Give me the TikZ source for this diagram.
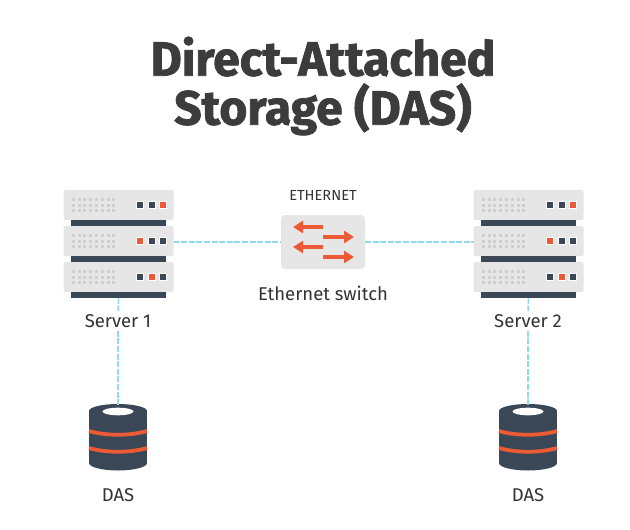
\documentclass[tikz,border=0pt]{standalone}
\usepackage{fontspec}
\setmainfont[BoldFeatures={FakeBold=1.6}]{Fira Sans}
\usetikzlibrary{arrows.meta,calc}
\definecolor{slatec}{HTML}{3A4757}
\definecolor{redc}{HTML}{EC5B36}
\definecolor{panelc}{HTML}{E6E6E6}
\definecolor{dotc}{HTML}{CFCFCF}
\definecolor{linkc}{HTML}{8FDCEA}
\definecolor{textc}{HTML}{333333}
\definecolor{titlec}{HTML}{3C3C3C}
\tikzset{
  panel/.style={fill=panelc,draw=none,rounded corners=2pt,minimum width=110pt,minimum height=30pt,inner sep=0pt,outer sep=0pt},
  rackbar/.style={fill=slatec,draw=none,minimum width=95pt,minimum height=6pt,inner sep=0pt,outer sep=0pt},
  led/.style={draw=white,line width=.6pt,minimum size=6.6pt,inner sep=0pt},
  griddot/.style={fill=dotc,draw=none,minimum size=3pt,inner sep=0pt},
  link/.style={draw=linkc,line width=1.5pt,dash pattern=on 6pt off 1.6pt},
  flow/.style={draw=redc,line width=4pt,-{Triangle[length=10pt,width=12pt]}},
  lab/.style={text=textc,font=\fontsize{18.5}{20}\selectfont,inner sep=3pt},
  titletext/.style={text=titlec,font=\fontsize{48}{50}\bfseries\selectfont,align=center,inner sep=0pt},
}
\newcommand{\rackunit}[6]{%
  \node[panel] (#3) at (#1,#2) {};
  \node[rackbar] (#3b) at (#1-.5,#2+18) {};
  \foreach \i in {0,...,7}\foreach \j in {-1,0,1}
    \node[griddot] at ({#1-45.3+\i*5.8},{#2+\j*5.7}) {};
  \node[led,fill=#4] at (#1+21,#2) {};
  \node[led,fill=#5] at (#1+33,#2) {};
  \node[led,fill=#6] at (#1+44.5,#2) {};
}
\newcommand{\drum}[2]{%
  \fill[slatec] (#1-29,411) rectangle (#1+29,463);
  \fill[slatec] (#1,463) ellipse[x radius=29,y radius=7.5];
  \fill[slatec] (#1,411) ellipse[x radius=29,y radius=7];
  \fill[white] (#1,411.5) ellipse[x radius=15.5,y radius=3.8];
  \draw[redc,line width=3.8pt] (#1-29,431) .. controls (#1-12,436) and (#1+12,436) .. (#1+29,431);
  \draw[redc,line width=3.8pt] (#1-29,448) .. controls (#1-12,453) and (#1+12,453) .. (#1+29,448);
  \coordinate (#2) at (#1,405);
}
\begin{document}
\begin{tikzpicture}[x=1pt,y=-1pt]
\useasboundingbox (0,0) rectangle (630,530);
\fill[white] (0,0) rectangle (630,530);

\node[titletext] (title) at (323,86) {Direct-Attached\\[-1pt]Storage (DAS)};

% servers
\rackunit{118.5}{205}{aa}{slatec}{slatec}{redc}
\rackunit{118.5}{241}{ab}{redc}{slatec}{slatec}
\rackunit{118.5}{277}{ac}{slatec}{redc}{slatec}
\rackunit{528.5}{205}{ba}{slatec}{slatec}{redc}
\rackunit{528.5}{241}{bb}{redc}{slatec}{slatec}
\rackunit{528.5}{277}{bc}{slatec}{redc}{slatec}

\node[lab] (s1) at (118,321) {Server 1};
\node[lab] (s2) at (528,321) {Server 2};

% switch
\node[fill=panelc,rounded corners=4pt,minimum width=84pt,minimum height=54pt,inner sep=0pt,outer sep=0pt] (sw) at (323,242) {};
\node[text=textc,font=\fontsize{14.6}{16}\selectfont] (eth) at (323,195) {ETHERNET};
\node[lab] (swl) at (323,293) {Ethernet switch};
\coordinate (la) at (323,227); \coordinate (lat) at (293,227);
\coordinate (ra) at (323,237); \coordinate (rat) at (354,237);
\coordinate (lb) at (323,247); \coordinate (lbt) at (293,247);
\coordinate (rb) at (323,257); \coordinate (rbt) at (354,257);
\draw[flow] (la) -- (lat);
\draw[flow] (ra) -- (rat);
\draw[flow] (lb) -- (lbt);
\draw[flow] (rb) -- (rbt);

% storage
\drum{118}{d1top}
\drum{528}{d2top}
\node[lab] (d1) at (118,495) {DAS};
\node[lab] (d2) at (528,495) {DAS};

% connectors
\draw[link] (ab.east) ++(0,1) -- (sw.west);
\draw[link] (sw.east) -- ($(bb.west)+(0,1)$);
\draw[link] (acb.south) ++(.5,0) -- (s1.north);
\draw[link] (bcb.south) ++(.5,0) -- (s2.north);
\draw[link] (s1.south) -- (d1top);
\draw[link] (s2.south) -- (d2top);
\end{tikzpicture}
\end{document}
